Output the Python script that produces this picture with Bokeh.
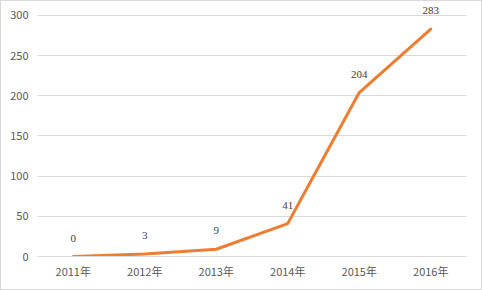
from bokeh.plotting import figure
from bokeh.models import ColumnDataSource, LabelSet, Range1d
from bokeh.layouts import column
from bokeh.embed import file_html
from bokeh.resources import INLINE

years = ["2011年", "2012年", "2013年", "2014年", "2015年", "2016年"]
counts = [0, 3, 9, 41, 204, 283]
yticks = [0, 50, 100, 150, 200, 250, 300]

FONT = "Noto Sans CJK SC"

src = ColumnDataSource(dict(x=years, y=counts, t=[str(v) for v in counts]))

p = figure(x_range=years, y_range=Range1d(0, 316), width=480, height=288,
           output_backend="svg", toolbar_location=None,
           min_border_left=36, min_border_right=15, min_border_top=1, min_border_bottom=33)
p.outline_line_color = None
p.background_fill_color = "white"
p.border_fill_color = "white"

p.line("x", "y", source=src, line_color="#ED7D31", line_width=3, line_join="round", line_cap="round")

labels = LabelSet(x="x", y="y", text="t", source=src, y_offset=15, text_align="center",
                  text_baseline="bottom", text_font=FONT, text_font_size="11px", text_color="#404040")
p.add_layout(labels)

p.yaxis.ticker = yticks
p.yaxis.axis_line_color = None
p.yaxis.major_tick_line_color = None
p.yaxis.minor_tick_line_color = None
p.yaxis.major_tick_out = 0
p.yaxis.major_tick_in = 0
p.yaxis.major_label_standoff = 9
p.yaxis.major_label_text_font = FONT
p.yaxis.major_label_text_font_size = "11px"
p.yaxis.major_label_text_color = "#595959"

p.xaxis.axis_line_color = "#d9d9d9"
p.xaxis.major_tick_line_color = None
p.xaxis.minor_tick_line_color = None
p.xaxis.major_tick_out = 0
p.xaxis.major_tick_in = 0
p.xaxis.major_label_standoff = 6
p.xaxis.major_label_text_font = FONT
p.xaxis.major_label_text_font_size = "11px"
p.xaxis.major_label_text_color = "#595959"

p.xgrid.grid_line_color = None
p.ygrid.grid_line_color = "#d9d9d9"
p.ygrid.grid_line_width = 1

layout = column(p, width=482, height=290,
                styles={"border": "1px solid #d9d9d9", "box-sizing": "border-box",
                        "background-color": "white"})

open("out.html", "w").write(file_html(layout, INLINE))
